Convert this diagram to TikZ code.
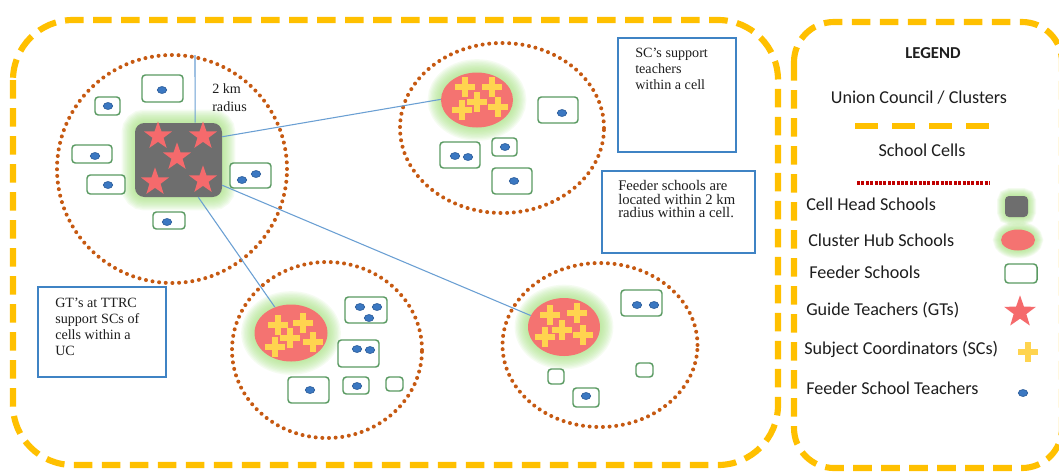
\documentclass[tikz,border=0pt]{standalone}
\usepackage{fontspec}
\setmainfont{Liberation Serif}
\newfontfamily\legfont{Carlito}
\usetikzlibrary{shapes.geometric,calc}
\definecolor{ucorange}{HTML}{FFC000}
\definecolor{cellbrown}{HTML}{C65911}
\definecolor{fsgreen}{HTML}{5A9A62}
\definecolor{boxblue}{HTML}{3F83C4}
\definecolor{lineblue}{HTML}{6A9FD3}
\definecolor{hubred}{HTML}{F47371}
\definecolor{starred}{HTML}{F56A6C}
\definecolor{headgray}{HTML}{6E6E6E}
\definecolor{glowgreen}{HTML}{A6E47E}
\definecolor{crossyellow}{HTML}{FFD44F}
\definecolor{dotblue}{HTML}{3B78C2}
\definecolor{dotedge}{HTML}{2A5C9A}
\definecolor{legred}{HTML}{C00000}
\definecolor{txtdark}{HTML}{1E1E1E}
\begin{document}
\begin{tikzpicture}[x=0.75pt,y=-0.75pt,
  sz/.style 2 args={minimum width={#1*0.75pt}, minimum height={#2*0.75pt}},
  ucbox/.style={draw=ucorange, line width=4.6pt, dash pattern=on 14pt off 7pt},
  cell/.style={ellipse, draw=cellbrown, line width=3pt, dash pattern=on 0pt off 5pt, line cap=round, inner sep=0pt},
  feeder/.style={rectangle, draw=fsgreen, line width=1.1pt, rounded corners=2.5pt, fill=white, inner sep=0pt},
  tdot/.style={ellipse, fill=dotblue, draw=dotedge, line width=0.5pt, inner sep=0pt, minimum width=7pt, minimum height=5.2pt},
  headsq/.style={rectangle, fill=headgray, rounded corners=7pt, inner sep=0pt},
  hub/.style={ellipse, fill=hubred, inner sep=0pt},
  gtstar/.style={star, star points=5, star point ratio=2.5, fill=starred, inner sep=0pt, minimum size=22pt},
  glow/.style={draw=glowgreen, opacity=0.1},
  txtbox/.style={rectangle, draw=boxblue, line width=1pt, inner sep=0pt},
  txt/.style={inner sep=0pt, align=left, font=\fontsize{10.6}{12}\selectfont, text=txtdark},
  legtxt/.style={inner sep=0pt, font=\legfont\fontsize{13.6}{15}\selectfont, text=txtdark},
  link/.style={draw=lineblue, line width=0.8pt},
  plus/.pic={\fill[crossyellow] (-10,-3.2) rectangle (10,3.2); \fill[crossyellow] (-3.2,-10) rectangle (3.2,10);}
]
\useasboundingbox (0,0) rectangle (1059,472);
\clip (0,0) rectangle (1059,472);
\fill[white] (0,0) rectangle (1059,472);

% ---------- outer frames ----------
\draw[ucbox, rounded corners=45pt] (13,20) rectangle (778,465);
\draw[ucbox, rounded corners=30pt] (794,22) rectangle (1062,468);

% ---------- school cells ----------
\node[cell, sz={230}{228}] (c1) at (172,169) {};
\node[cell, sz={204}{170}] (c2) at (502,128) {};
\node[cell, sz={190}{176}] (c3) at (327,350) {};
\node[cell, sz={195}{164}] (c4) at (600,345) {};

% ---------- glows ----------
\foreach \w in {20,18,16,14,12,10,8,6,4,2}{
  \draw[glow, line width=\w pt, rounded corners=7pt] (135,123) rectangle (222,197);
  \draw[glow, line width=\w pt] (477,100) ellipse [x radius=36, y radius=27.5];
  \draw[glow, line width=\w pt] (291,333) ellipse [x radius=36.5, y radius=28.5];
  \draw[glow, line width=\w pt] (564,327) ellipse [x radius=36, y radius=29];
  \draw[glow, line width=\w*0.6 pt, rounded corners=4pt] (1005,196) rectangle (1028,217);
  \draw[glow, line width=\w*0.6 pt] (1018,240) ellipse [x radius=17, y radius=10.5];
}

% ---------- cell head school ----------
\node[headsq, sz={87}{74}] (ch) at (178.5,160) {};
\node[gtstar] (s1) at (158,136) {};
\node[gtstar] (s2) at (203,136) {};
\node[gtstar] (s3) at (177,157) {};
\node[gtstar] (s4) at (155,182) {};
\node[gtstar] (s5) at (203,180) {};

% ---------- cluster hubs ----------
\node[hub, sz={72}{55}] (h2) at (477,100) {};
\node[hub, sz={73}{57}] (h3) at (291,333) {};
\node[hub, sz={72}{58}] (h4) at (564,327) {};
\foreach \p in {(465,87),(492,87),(477,102),(462,110),(498,107),
                (278,325),(303,323),(290,338),(275,347),(313,342),
                (550,315),(577,313),(562,330),(545,337),(583,335)}
  \pic at \p {plus};

% ---------- feeder schools, cell 1 ----------
\node[feeder, sz={41}{27}] (f1a) at (162.5,88.5) {};
\node[tdot] (d1a) at (162,90) {};
\node[feeder, sz={25}{18}] (f1b) at (107.5,106) {};
\node[tdot] (d1b) at (108,106) {};
\node[feeder, sz={40}{18}] (f1c) at (92,154) {};
\node[tdot] (d1c) at (95,156) {};
\node[feeder, sz={38}{19}] (f1d) at (106,184.5) {};
\node[tdot] (d1d) at (108,185) {};
\node[feeder, sz={41}{25}] (f1e) at (250.5,175.5) {};
\node[tdot] (d1e) at (242,180) {};
\node[tdot] (d1f) at (256,174) {};
\node[feeder, sz={32}{17}] (f1f) at (169,220.5) {};
\node[tdot] (d1g) at (167,222) {};

% ---------- feeder schools, cell 2 ----------
\node[feeder, sz={40}{26}] (f2a) at (558,110) {};
\node[tdot] (d2a) at (562,113) {};
\node[feeder, sz={40}{26}] (f2b) at (460,155) {};
\node[tdot] (d2b) at (455,156) {};
\node[tdot] (d2c) at (468,157) {};
\node[feeder, sz={25}{18}] (f2c) at (504.5,147) {};
\node[tdot] (d2d) at (505,147) {};
\node[feeder, sz={40}{26}] (f2d) at (512,181) {};
\node[tdot] (d2e) at (514,181) {};

% ---------- feeder schools, cell 3 ----------
\node[feeder, sz={42}{26}] (f3a) at (366,310) {};
\node[tdot] (d3a) at (360,307) {};
\node[tdot] (d3b) at (377,307) {};
\node[tdot] (d3c) at (369,318) {};
\node[feeder, sz={41}{27}] (f3b) at (358.5,353.5) {};
\node[tdot] (d3d) at (357,349) {};
\node[tdot] (d3e) at (370,350) {};
\node[feeder, sz={41}{26}] (f3c) at (308.5,390) {};
\node[tdot] (d3f) at (310,390) {};
\node[feeder, sz={26}{17}] (f3d) at (356,385.5) {};
\node[tdot] (d3g) at (357,386) {};
\node[feeder, sz={17}{14}] (f3e) at (394.5,384) {};

% ---------- feeder schools, cell 4 ----------
\node[feeder, sz={41}{26}] (f4a) at (641.5,303) {};
\node[tdot] (d4a) at (637,305) {};
\node[tdot] (d4b) at (654,305) {};
\node[feeder, sz={16}{15}] (f4b) at (556,376.5) {};
\node[feeder, sz={17}{14}] (f4c) at (644.5,370) {};
\node[feeder, sz={26}{19}] (f4d) at (586,397.5) {};
\node[tdot] (d4c) at (586,396) {};

% ---------- links ----------
\coordinate (t1) at (195,55);
\draw[link] (ch.66) -- (t1);
\draw[link] (ch.28) -- (h2.179);
\draw[link] (ch.-30) -- (h4.161);
\draw[link] (ch.-62) -- (h3.122);

% ---------- labels ----------
\node[txt, anchor=north west, font=\fontsize{10.6}{13.5}\selectfont] (km) at (212,83) {2 km\\radius};

\node[txtbox, sz={118}{114}] (bsc) at (677,95) {};
\node[txt, anchor=north west] (tsc) at (635,48) {SC’s support\\teachers\\within a cell};

\node[txtbox, sz={153}{82}] (bfs) at (678.5,212) {};
\node[txt, anchor=north west, font=\fontsize{11}{10.2}\selectfont] (tfs) at (618,180) {Feeder schools are\\located within 2 km\\radius within a cell.};

\node[txtbox, sz={128}{90}] (bgt) at (102,332) {};
\node[txt, anchor=north west] (tgt) at (55,298) {GT’s at TTRC\\support SCs of\\cells within a\\UC};

% ---------- legend ----------
\node[legtxt, font=\legfont\bfseries\fontsize{12.5}{15}\selectfont] (lg) at (933,53) {LEGEND};
\node[legtxt] (luc) at (919,98) {Union Council / Clusters};
\coordinate (lu1) at (855,126);
\coordinate (lu2) at (989,126);
\draw[draw=ucorange, line width=3.8pt, dash pattern=on 17.3pt off 10.5pt] (lu1) -- (lu2);
\node[legtxt] (lsc) at (922,150) {School Cells};
\coordinate (lc1) at (857,183);
\coordinate (lc2) at (990,183);
\draw[draw=legred, line width=2.6pt, dash pattern=on 2.2pt off 1.1pt] (lc1) -- (lc2);

\node[legtxt, anchor=west] (l1) at (806,204) {Cell Head Schools};
\node[headsq, rounded corners=3pt, sz={23}{21}] (k1) at (1016.5,206.5) {};
\node[legtxt, anchor=west] (l2) at (808,240) {Cluster Hub Schools};
\node[hub, sz={34}{21}] (k2) at (1018,240) {};
\node[legtxt, anchor=west] (l3) at (809,272) {Feeder Schools};
\node[feeder, sz={32}{19}] (k3) at (1021,273.5) {};
\node[legtxt, anchor=west] (l4) at (806,310) {Guide Teachers (GTs)};
\node[gtstar, minimum size=25pt] (k4) at (1020,312) {};
\node[legtxt, anchor=west] (l5) at (804,349) {Subject Coordinators (SCs)};
\pic at (1028,352) {plus};
\node[legtxt, anchor=west] (l6) at (806,388) {Feeder School Teachers};
\node[tdot] (k6) at (1023,393) {};
\end{tikzpicture}
\end{document}
